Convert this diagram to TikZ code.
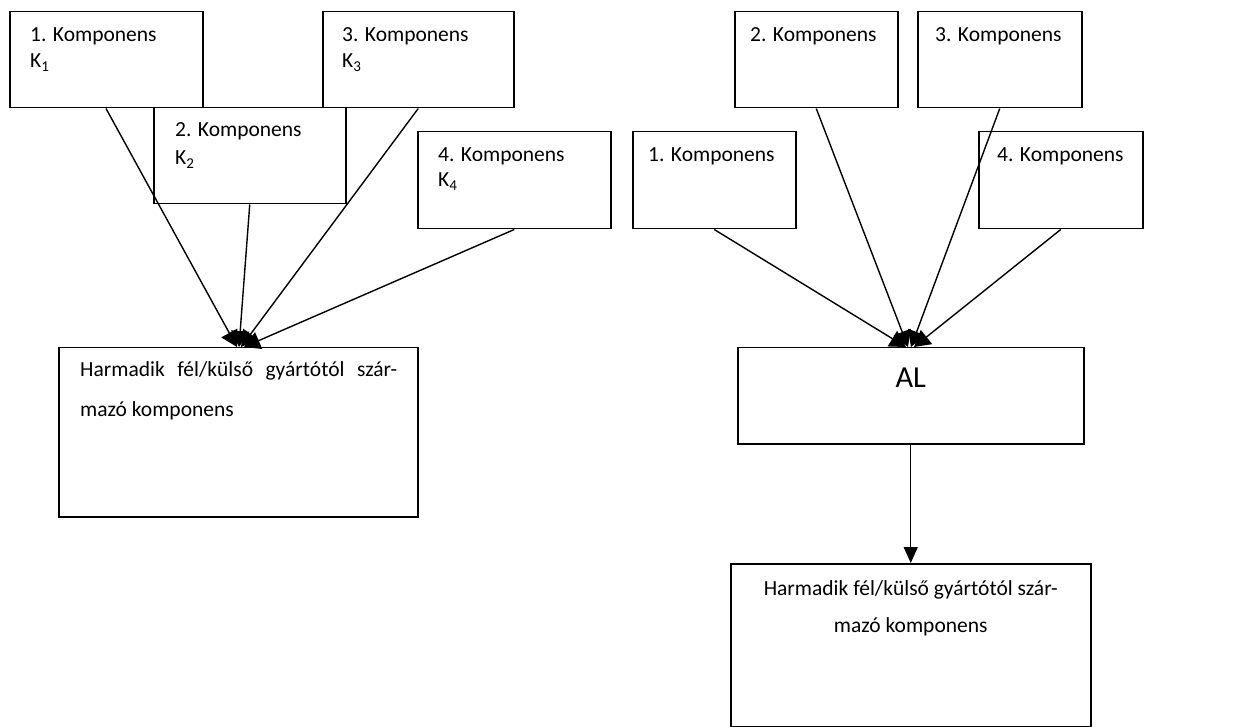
\documentclass[tikz,border=0pt]{standalone}
\usepackage{fontspec}
\setmainfont{Carlito}
\usetikzlibrary{arrows.meta,calc}
\begin{document}
\begin{tikzpicture}[x=1pt,y=-1pt,
  box/.style={draw,line width=1.5pt,anchor=north west,inner sep=0pt},
  lbl/.style={anchor=base west,inner sep=0pt,font=\fontsize{21.5}{26}\selectfont},
  clbl/.style={anchor=base,inner sep=0pt,font=\fontsize{21.5}{26}\selectfont},
  feed/.style={line width=1.4pt,-{Triangle[length=16pt,width=18pt]}},
  down/.style={line width=1.4pt,-{Triangle[length=16pt,width=14pt]}}]
\useasboundingbox (0,0) rectangle (1235,727);

% ---------- left scheme: components feeding the third-party component
\node[box,minimum width=193,minimum height=96] (lk1) at (9,11) {};
\node[box,minimum width=192,minimum height=96] (lk2) at (153,107) {};
\node[box,minimum width=191,minimum height=96] (lk3) at (322,11) {};
\node[box,minimum width=193,minimum height=97] (lk4) at (417,131) {};
\node[box,minimum width=359,minimum height=169] (lh) at (58,347) {};

\node[lbl] (lk1a) at ($(lk1.north west)+(21,31)$) {1. Komponens};
\node[lbl] (lk1b) at ($(lk1.north west)+(21,57)$) {K\textsubscript{1}};
\node[lbl] (lk2a) at ($(lk2.north west)+(22,30)$) {2. Komponens};
\node[lbl] (lk2b) at ($(lk2.north west)+(22,58)$) {K\textsubscript{2}};
\node[lbl] (lk3a) at ($(lk3.north west)+(20,31)$) {3. Komponens};
\node[lbl] (lk3b) at ($(lk3.north west)+(20,57)$) {K\textsubscript{3}};
\node[lbl] (lk4a) at ($(lk4.north west)+(21,31)$) {4. Komponens};
\node[lbl] (lk4b) at ($(lk4.north west)+(21,56)$) {K\textsubscript{4}};
\node[lbl] (lha) at ($(lh.north west)+(22,30)$) {\makebox[317pt][s]{Harmadik fél/külső gyártótól szár-}};
\node[lbl] (lhb) at ($(lh.north west)+(22,70)$) {mazó komponens};

\draw[feed] ($(lk1.south west)+(97,0)$) -- ($(lh.north west)+(179,0)$);
\draw[feed] (lk2.south) -- ($(lh.north west)+(181,0)$);
\draw[feed] (lk3.south) -- ($(lh.north west)+(183,0)$);
\draw[feed] (lk4.south) -- ($(lh.north west)+(186,0)$);

% ---------- right scheme: components feeding AL, AL feeding the third-party component
\node[box,minimum width=163,minimum height=96] (rk2) at (734,11) {};
\node[box,minimum width=164,minimum height=96] (rk3) at (917,11) {};
\node[box,minimum width=163,minimum height=97] (rk1) at (632,131) {};
\node[box,minimum width=164,minimum height=97] (rk4) at (978,131) {};
\node[box,minimum width=346,minimum height=96] (al) at (737,347) {};
\node[box,minimum width=360,minimum height=163] (rh) at (730,563) {};

\node[lbl] (rk2a) at ($(rk2.north west)+(16,31)$) {2. Komponens};
\node[lbl] (rk3a) at ($(rk3.north west)+(18,31)$) {3. Komponens};
\node[lbl] (rk1a) at ($(rk1.north west)+(16,31)$) {1. Komponens};
\node[lbl] (rk4a) at ($(rk4.north west)+(19,31)$) {4. Komponens};
\node[anchor=base,inner sep=0pt,font=\fontsize{30.5}{36}\selectfont] (alt) at ($(al.north)+(0,41)$) {AL};
\node[clbl] (rha) at ($(rh.north)+(0,32)$) {Harmadik fél/külső gyártótól szár-};
\node[clbl] (rhb) at ($(rh.north)+(0,69)$) {mazó komponens};

\draw[feed] (rk1.south) -- ($(al.north west)+(169,0)$);
\draw[feed] (rk2.south) -- ($(al.north west)+(171,0)$);
\draw[feed] (rk3.south) -- ($(al.north west)+(174,0)$);
\draw[feed] (rk4.south) -- ($(al.north west)+(177,0)$);
\draw[down] (al.south) -- (rh.north);
\end{tikzpicture}
\end{document}
